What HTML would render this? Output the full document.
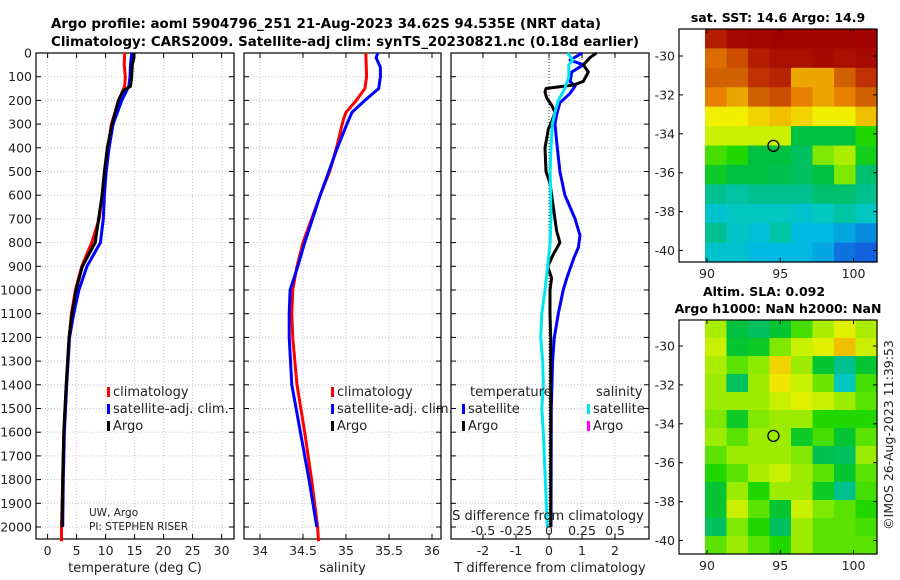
<!DOCTYPE html>
<html><head><meta charset="utf-8">
<style>
html,body{margin:0;padding:0;background:#fff;}
svg{display:block;font-family:"DejaVu Sans","Liberation Sans",sans-serif;}
</style></head>
<body>
<svg id="c" width="900" height="580" viewBox="0 0 900 580" xmlns="http://www.w3.org/2000/svg">
<text x="51" y="28" font-size="13" font-weight="bold" textLength="550" lengthAdjust="spacingAndGlyphs">Argo profile: aoml 5904796_251 21-Aug-2023 34.62S 94.535E (NRT data)</text>
<text x="51" y="46" font-size="13" font-weight="bold" textLength="588" lengthAdjust="spacingAndGlyphs">Climatology: CARS2009. Satellite-adj clim: synTS_20230821.nc (0.18d earlier)</text>
<g id="g"></g>
</svg>
<script>
// ---- data ----
const depthTicks=[0,100,200,300,400,500,600,700,800,900,1000,1100,1200,1300,1400,1500,1600,1700,1800,1900,2000];
const tempTicks=[0,5,10,15,20,25,30];
const salTicks=[34,34.5,35,35.5,36];
const salTickLabels=["34","34.5","35","35.5","36"];
const tdTicks=[-2,-1,0,1,2];
const sdTicks=[-0.5,-0.25,0,0.25,0.5];
const sdTickLabels=["-0.5","-0.25","0","0.25","0.5"];

const tArgoDepth=[0,20,50,100,140,160,200,300,400,500,600,700,800,900,1000,1100,1200,1400,1600,1800,2000];
const tArgo=[14.9,14.9,14.6,14.5,14.3,13.0,12.2,11.1,10.3,9.8,9.4,8.8,8.2,6.0,4.9,4.2,3.7,3.2,2.8,2.6,2.5];
const tClimDepth=[0,50,100,140,170,200,300,400,500,600,700,800,900,1000,1100,1200,1400,1600,1800,2000,2060];
const tClim=[13.3,13.2,13.4,13.3,12.8,12.3,11.0,10.4,9.9,9.4,8.9,7.6,5.9,4.8,4.1,3.7,3.2,2.8,2.6,2.4,2.4];
const tSatDepth=[0,50,100,140,200,300,400,500,600,700,800,900,1000,1100,1200,1400,1600,1800,2000];
const tSat=[14.5,14.3,14.2,14.0,12.8,11.3,10.6,10.1,9.8,9.6,9.1,6.8,5.4,4.5,3.8,3.3,2.9,2.7,2.6];

const sClimDepth=[0,100,150,200,250,280,400,500,600,700,800,900,1000,1100,1200,1400,1600,1800,2000,2060];
const sClim=[35.23,35.24,35.22,35.12,35.0,34.97,34.89,34.81,34.70,34.60,34.50,34.43,34.38,34.37,34.38,34.43,34.52,34.60,34.67,34.68];
const sSatDepth=[0,20,60,100,150,200,250,300,400,500,600,700,800,900,1000,1100,1200,1400,1600,1800,2000];
const sSat=[35.37,35.35,35.40,35.40,35.38,35.22,35.07,35.01,34.90,34.80,34.70,34.61,34.52,34.44,34.35,34.34,34.34,34.37,34.47,34.57,34.66];

const dArgoDepth=[0,20,50,80,120,135,150,165,190,220,250,290,320,400,500,550,650,750,800,850,900,950,1000,1100,1200,1500,2000];
const dTArgo=[1.44,1.24,1.04,1.19,1.04,0.74,-0.09,-0.12,-0.07,0.08,0.18,0.08,-0.02,-0.12,-0.09,0.03,0.13,0.23,0.33,0.13,-0.04,0.08,0.03,0.03,0.05,0.05,0.05];
const dSatDepth=[0,30,50,80,120,140,170,210,260,300,400,500,600,700,770,820,870,950,1000,1100,1200,1300,1500,2000];
const dTSat=[1.01,0.64,1.04,0.69,0.64,0.79,0.64,0.33,0.23,0.18,0.25,0.33,0.48,0.79,0.94,0.89,0.74,0.54,0.43,0.28,0.16,0.11,0.07,0.06];
const dSDepth=[0,30,50,100,150,200,250,300,400,500,600,700,800,900,1000,1100,1200,1300,1400,1500,1600,1800,2000];
const dSSat=[0.14,0.18,0.15,0.15,0.12,0.07,0.045,0.025,0.015,0.008,0.013,0.015,0.008,-0.01,-0.03,-0.055,-0.063,-0.048,-0.043,-0.055,-0.043,-0.028,-0.013];

const sstGrid=[
[.88,.93,.95,.96,.96,.96,.96,.96],
[.78,.82,.88,.9,.9,.93,.9,.92],
[.8,.8,.85,.87,.72,.72,.8,.85],
[.75,.72,.8,.82,.75,.72,.75,.8],
[.65,.65,.68,.7,.68,.65,.65,.7],
[.6,.6,.6,.6,.45,.45,.45,.5],
[.52,.5,.45,.45,.43,.55,.58,.48],
[.47,.45,.45,.44,.43,.45,.55,.42],
[.4,.38,.4,.4,.4,.42,.42,.4],
[.33,.35,.35,.35,.33,.35,.38,.35],
[.4,.34,.32,.38,.3,.3,.28,.25],
[.33,.33,.3,.3,.3,.28,.22,.2]];
const slaGrid=[
[.58,.45,.43,.46,.52,.58,.63,.58],
[.6,.46,.47,.55,.6,.63,.7,.6],
[.58,.53,.56,.68,.57,.46,.4,.46],
[.57,.43,.57,.66,.6,.54,.35,.52],
[.57,.57,.57,.6,.63,.6,.57,.53],
[.55,.47,.55,.57,.57,.5,.5,.5],
[.57,.53,.57,.57,.47,.52,.46,.53],
[.53,.57,.57,.57,.55,.44,.43,.57],
[.5,.53,.58,.6,.57,.53,.46,.53],
[.46,.57,.5,.57,.57,.47,.4,.52],
[.46,.6,.53,.46,.6,.55,.53,.5],
[.43,.55,.5,.43,.57,.53,.53,.52],
[.53,.57,.53,.5,.57,.53,.53,.53]];
const mapLonTicks=[90,95,100];
const mapLatTicks=[-30,-32,-34,-36,-38,-40];
const floatLon=94.535, floatLat=-34.62;

// ---- helpers ----
const NS="http://www.w3.org/2000/svg";
const G=document.getElementById('g');
function mk(tag,attrs,parent){const e=document.createElementNS(NS,tag);for(const k in attrs)e.setAttribute(k,attrs[k]);(parent||G).appendChild(e);return e;}
const yTop=53, pxPerM=0.237, yBot=539;
const yD=d=>yTop+d*pxPerM;

const panels=[
 {name:'temperature',x0:36,x1:234,v0:-2.0,scale:5.8,ticks:tempTicks,labels:tempTicks.map(String),xlabel:'temperature (deg C)',showDepth:true},
 {name:'salinity',x0:244,x1:441,v0:33.814,scale:86,ticks:salTicks,labels:salTickLabels,xlabel:'salinity'},
 {name:'difference',x0:451,x1:649,v0:-2.97,scale:33,ticks:tdTicks,labels:tdTicks.map(String),xlabel:'T difference from climatology'}
];
panels.forEach(p=>{p.fx=v=>p.x0+(v-p.v0)*p.scale;});

panels.forEach((p,i)=>{
  const g=mk('g',{});
  
  
  depthTicks.forEach(d=>{
    const l=mk('line',{x1:p.x0,x2:p.x1,y1:yD(d),y2:yD(d),stroke:'#c6c6e6','stroke-width':1,'stroke-dasharray':'1,2'},g);
    
    
    mk('line',{x1:p.x0,x2:p.x0+5,y1:yD(d),y2:yD(d),stroke:'#000'},g);
    mk('line',{x1:p.x1-5,x2:p.x1,y1:yD(d),y2:yD(d),stroke:'#000'},g);
    if(p.showDepth){const t=mk('text',{x:p.x0-4,y:yD(d)+4.5,'font-size':12.5,'text-anchor':'end',fill:'#222'},g);t.textContent=d;
      }
  });
  p.ticks.forEach((v,j)=>{
    const x=p.fx(v);
    const l=mk('line',{x1:x,x2:x,y1:yTop,y2:yBot,stroke:'#c6c6e6','stroke-width':1,'stroke-dasharray':'1,2'},g);
    
    
    mk('line',{x1:x,x2:x,y1:yTop,y2:yTop+5,stroke:'#000'},g);
    mk('line',{x1:x,x2:x,y1:yBot-5,y2:yBot,stroke:'#000'},g);
    const t=mk('text',{x:x,y:555,'font-size':12.5,'text-anchor':'middle',fill:'#222'},g);t.textContent=p.labels[j];
    
    
  });
  const r=mk('rect',{x:p.x0,y:yTop,width:p.x1-p.x0,height:yBot-yTop,fill:'none',stroke:'#000','stroke-width':1.2},g);
  
  
  const xt=mk('text',{x:(p.x0+p.x1)/2,y:572,'font-size':13,'text-anchor':'middle',fill:'#222'},g);xt.textContent=p.xlabel;
  
  
});

function line(depths,vals,fx,color,name,w){
  const pts=depths.map((d,i)=>fx(vals[i]).toFixed(1)+','+yD(d).toFixed(1)).join(' ');
  const e=mk('polyline',{points:pts,fill:'none',stroke:color,'stroke-width':w||3,'stroke-linejoin':'round'});
  
  
}
const P1=panels[0],P2=panels[1],P3=panels[2];
line(tClimDepth,tClim,P1.fx,'#f00','temp-climatology-line');
line(tSatDepth,tSat,P1.fx,'#00f','temp-satellite-line');
line(tArgoDepth,tArgo,P1.fx,'#000','temp-argo-line');
line(sClimDepth,sClim,P2.fx,'#f00','sal-climatology-line');
line(sSatDepth,sSat,P2.fx,'#00f','sal-satellite-line');
const zl=mk('line',{x1:P3.fx(0),x2:P3.fx(0),y1:yTop,y2:yBot,stroke:'#333','stroke-dasharray':'1,2'});


line(dSatDepth,dTSat,P3.fx,'#00f','tdiff-satellite-line');
line(dArgoDepth,dTArgo,P3.fx,'#000','tdiff-argo-line');
const sdx=v=>P3.fx(0)+v*132;
line(dSDepth,dSSat,sdx,'#00e5ee','sdiff-satellite-line');

const sdt=mk('text',{x:548,y:520,'font-size':13,'text-anchor':'middle',fill:'#222'});sdt.textContent='S difference from climatology';


sdTicks.forEach((v,j)=>{const t=mk('text',{x:sdx(v),y:535,'font-size':12.5,'text-anchor':'middle',fill:'#222'});t.textContent=sdTickLabels[j];
  
  });

function legend(x,y,color,label,name){
  const g=mk('g',{});
  
  
  if(color) mk('rect',{x:x,y:y-9,width:3,height:10,fill:color},g);
  const t=mk('text',{x:x+(color?6:0),y:y,'font-size':13,fill:'#222'},g);t.textContent=label;
}
legend(107,396,'#f00','climatology','legend-climatology');
legend(107,413,'#00f','satellite-adj. clim.','legend-satellite-adj');
legend(107,430,'#000','Argo','legend-argo');
legend(331,396,'#f00','climatology','legend-climatology-2');
legend(331,413,'#00f','satellite-adj. clim.','legend-satellite-adj-2');
legend(331,430,'#000','Argo','legend-argo-2');
legend(470,396,null,'temperature','legend-temperature-header');
legend(462,413,'#00f','satellite','legend-t-satellite');
legend(462,430,'#000','Argo','legend-t-argo');
legend(596,396,null,'salinity','legend-salinity-header');
legend(587,413,'#00e5ee','satellite','legend-s-satellite');
legend(587,430,'#f0f','Argo','legend-s-argo');
const c1=mk('text',{x:89,y:516,'font-size':10.5,fill:'#222'});c1.textContent='UW, Argo';

const c2=mk('text',{x:89,y:530,'font-size':10.5,fill:'#222'});c2.textContent='PI: STEPHEN RISER';


const cmapStops=[[0.2,[16,96,224]],[0.3,[0,184,224]],[0.35,[0,200,192]],[0.4,[0,192,144]],[0.45,[0,192,64]],[0.5,[32,216,0]],[0.55,[128,232,0]],[0.6,[200,240,0]],[0.65,[240,240,0]],[0.7,[240,192,0]],[0.75,[232,128,0]],[0.8,[208,96,0]],[0.85,[192,48,0]],[0.9,[168,16,0]],[0.97,[160,0,0]]];
function cmap(v){
  if(v<=cmapStops[0][0])return 'rgb('+cmapStops[0][1]+')';
  for(let i=1;i<cmapStops.length;i++){const a=cmapStops[i-1],b=cmapStops[i];
    if(v<=b[0]){const t=(v-a[0])/(b[0]-a[0]);return 'rgb('+a[1].map((c,k)=>Math.round(c+(b[1][k]-c)*t)).join(',')+')';}}
  return 'rgb('+cmapStops[cmapStops.length-1][1]+')';
}
function drawMap(name,grid,top,bot,lat30y,titles){
  const fx=lon=>707+(lon-90)*14.65;
  const fy=lat=>lat30y+(-30-lat)*19.45;
  const x0=679,x1=877,dx0=705;
  const g=mk('g',{});
  
  
  const rows=grid.length,cols=grid[0].length;
  const cw=(x1-dx0)/cols,ch=(bot-top)/rows;
  grid.forEach((row,ri)=>row.forEach((v,ci)=>{
    const r=mk('rect',{x:(dx0+ci*cw).toFixed(2),y:(top+ri*ch).toFixed(2),width:(cw+0.6).toFixed(2),height:(ch+0.6).toFixed(2),fill:cmap(v)},g);
    
    
  }));
  mk('rect',{x:x0,y:top,width:x1-x0,height:bot-top,fill:'none',stroke:'#000','stroke-width':1.2},g);
  mapLonTicks.forEach(l=>{const x=fx(l);mk('line',{x1:x,x2:x,y1:bot,y2:bot-4,stroke:'#000'},g);mk('line',{x1:x,x2:x,y1:top,y2:top+4,stroke:'#000'},g);
    const t=mk('text',{x:x,y:bot+16,'font-size':12.5,'text-anchor':'middle',fill:'#222'},g);t.textContent=l;
    });
  mapLatTicks.forEach(l=>{const y=fy(l);mk('line',{x1:x0,x2:x0+4,y1:y,y2:y,stroke:'#000'},g);mk('line',{x1:x1-4,x2:x1,y1:y,y2:y,stroke:'#000'},g);
    const t=mk('text',{x:x0-4,y:y+4.5,'font-size':12.5,'text-anchor':'end',fill:'#222'},g);t.textContent=l;
    });
  const c=mk('circle',{cx:fx(floatLon),cy:fy(floatLat),r:5.5,fill:'none',stroke:'#000','stroke-width':1.3},g);
  
  
  titles.forEach((tt,k)=>{const t=mk('text',{x:tt[1],y:tt[2],'font-size':12.5,'font-weight':'bold','text-anchor':'middle',fill:'#000'},g);t.textContent=tt[0];
    });
}
drawMap('sst-map',sstGrid,29,262,56,[['sat. SST: 14.6 Argo: 14.9',778,22]]);
drawMap('sla-map',slaGrid,320,554,346,[['Altim. SLA: 0.092',764,296],['Argo h1000: NaN h2000: NaN',778,313]]);
const ts=mk('text',{x:0,y:0,'font-size':12.5,'text-anchor':'middle',fill:'#222',transform:'translate(893,435) rotate(-90)'});
ts.textContent='©IMOS 26-Aug-2023 11:39:53';


</script>
</body></html>
